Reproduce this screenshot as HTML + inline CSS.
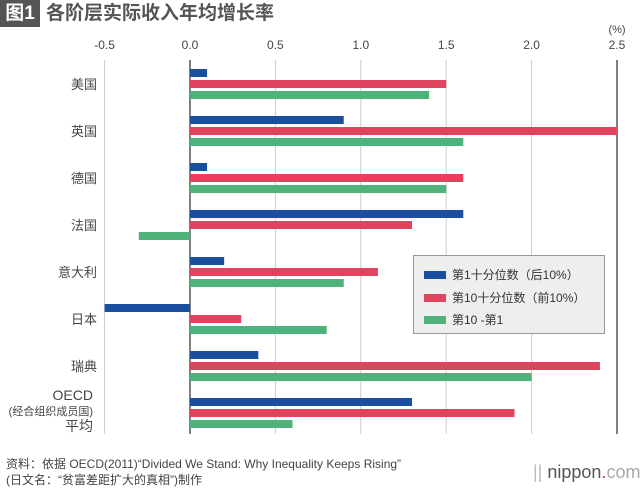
<!DOCTYPE html>
<html><head><meta charset="utf-8"><style>
body{margin:0;width:640px;height:487px;background:#fff;font-family:"Liberation Sans","Noto Sans CJK SC",sans-serif;overflow:hidden;position:relative}
.t{position:absolute;white-space:nowrap}
</style></head><body>
<div class="t" style="left:0;top:0;width:40px;height:27px;background:#555;color:#fff;font-size:19px;font-weight:bold;line-height:27px;text-align:center">图1</div>
<div class="t" style="left:46px;top:0;font-size:19px;font-weight:bold;color:#555;line-height:27px">各阶层实际收入年均增长率</div>
<svg id="c" width="640" height="487" style="position:absolute;left:0;top:0"></svg>
<div class="t" style="left:413px;top:255px;width:190px;height:77px;background:#eee;border:1px solid #999;font-size:12px;color:#333">
<div style="position:absolute;left:10px;top:10px"><span style="display:inline-block;width:22px;height:8px;background:#1a4fa0;margin-right:6px"></span>第1十分位数（后10%）</div>
<div style="position:absolute;left:10px;top:33px"><span style="display:inline-block;width:22px;height:8px;background:#e0435e;margin-right:6px"></span>第10十分位数（前10%）</div>
<div style="position:absolute;left:10px;top:55px"><span style="display:inline-block;width:22px;height:8px;background:#4db37a;margin-right:6px"></span>第10 -第1</div>
</div>
<div class="t" style="left:6px;top:456px;font-size:12px;color:#444;line-height:16px">资料：依据 OECD(2011)“Divided We Stand: Why Inequality Keeps Rising”<br>(日文名：“贫富差距扩大的真相”)制作</div>
<div class="t" style="left:533px;top:462px;font-size:18px;color:#555"><span style="color:#bbb">||</span> nippon<span style="color:#c33">.</span><span style="color:#aaa">com</span></div>
<script>
const categories=["美国","英国","德国","法国","意大利","日本","瑞典","OECD"];
const bottom10=[0.1,0.9,0.1,1.6,0.2,-0.5,0.4,1.3];
const top10=[1.5,2.5,1.6,1.3,1.1,0.3,2.4,1.9];
const diff=[1.4,1.6,1.5,-0.3,0.9,0.8,2.0,0.6];
const ticks=[-0.5,0,0.5,1,1.5,2,2.5];
const tickLabels=["-0.5","0.0","0.5","1.0","1.5","2.0","2.5"];
const svg=document.getElementById('c');const NS="http://www.w3.org/2000/svg";
const x=v=>190+v*170.8;
const gy=i=>69+i*47;
function mk(tag,a){const e=document.createElementNS(NS,tag);for(const k in a)e.setAttribute(k,a[k]);svg.appendChild(e);return e;}
ticks.forEach((t,i)=>{
 const l=mk('line',{x1:x(t),x2:x(t),y1:60,y2:434,stroke:(t===0||t===2.5)?'#000':'#ccc','stroke-width':1});
 
 
 const tx=mk('text',{x:x(t),y:49,'text-anchor':'middle','font-size':12,fill:'#444'});
 tx.textContent=tickLabels[i];
 
 
});
const u=mk('text',{x:617,y:33,'text-anchor':'middle','font-size':11,fill:'#444'});u.textContent='(%)';


const series=[[bottom10,'#1a4fa0',0],[top10,'#e0435e',11],[diff,'#4db37a',22]];
categories.forEach((c,i)=>{
 series.forEach(([arr,col,off])=>{
  const v=arr[i];const r=mk('rect',{x:Math.min(x(0),x(v)),y:gy(i)+off,width:Math.abs(x(v)-x(0)),height:8,fill:col});
  
  
 });
 if(c==='OECD'){
  [['OECD',gy(i)+2,14],['(经合组织成员国)',gy(i)+17,11],['平均',gy(i)+33,14]].forEach(([s,yy,fs])=>{
   const t=mk('text',{x:93,y:yy,'text-anchor':'end','font-size':fs,fill:'#444'});t.textContent=s;
   
   
  });
 } else {
  const t=mk('text',{x:97,y:gy(i)+20,'text-anchor':'end','font-size':13,fill:'#444'});t.textContent=c;
  
  
 }
});
</script>
</body></html>
